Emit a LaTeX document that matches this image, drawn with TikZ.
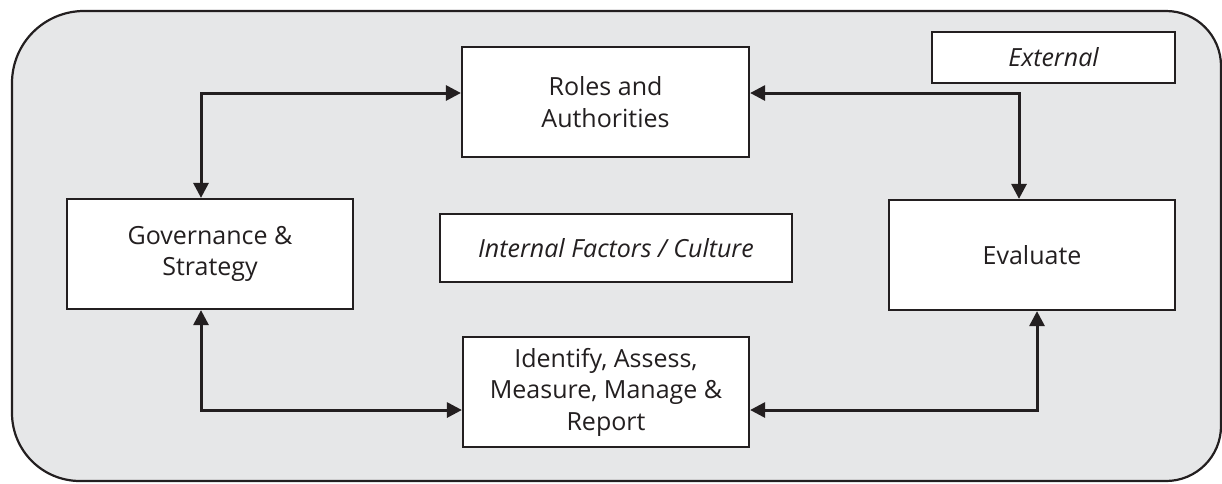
\documentclass[tikz,border=0pt]{standalone}
\usepackage{fontspec}
\setmainfont{Open Sans}
\usetikzlibrary{arrows.meta}
\definecolor{ink}{HTML}{231F20}
\definecolor{panel}{HTML}{E6E7E8}
\begin{document}
\begin{tikzpicture}[x=1pt,y=-1pt,
  box/.style={draw=ink,fill=white,line width=2.2pt,inner sep=0pt,align=center,text=ink,
    font=\fontsize{25}{31.5}\selectfont},
  link/.style={draw=ink,line width=3pt,{Triangle[length=15pt,width=15pt]}-{Triangle[length=15pt,width=15pt]}}]
\useasboundingbox (0,0) rectangle (1222,483);
\fill[white] (0,0) rectangle (1222,483);
% outer panel
\draw[ink,line width=2.2pt,fill=panel]
  (12,83) .. controls (12,43.2) and (44.2,11) .. (84,11)
  -- (1166,11) .. controls (1196.4,11) and (1221,35.6) .. (1221,66)
  -- (1221,426) .. controls (1221,456.4) and (1196.4,481) .. (1166,481)
  -- (80,481) .. controls (42.4,481) and (12,450.6) .. (12,413) -- cycle;
% boxes
\node[box,minimum width=287pt,minimum height=110pt] (roles) at (605.5,102) {Roles and\\Authorities};
\node[box,minimum width=286pt,minimum height=110pt] (gov) at (210,254) {Governance \&\\Strategy};
\node[box,minimum width=352pt,minimum height=68pt] (internal) at (616,248) {\itshape Internal Factors / Culture};
\node[box,minimum width=286pt,minimum height=110pt] (ident) at (606,392) {Identify, Assess,\\Measure, Manage \&\\Report};
\node[box,minimum width=286pt,minimum height=110pt] (eval) at (1032,255) {Evaluate};
\node[box,minimum width=243pt,minimum height=51pt] (ext) at (1053.5,57.5) {\itshape External};
% connectors
\coordinate (c1) at (201,93);
\coordinate (c2) at (1019,93);
\coordinate (c3) at (201,410);
\coordinate (c4) at (1037,410);
\draw[link] (gov.north -| c1) -- (c1) -- (roles.west |- c1);
\draw[link] (roles.east |- c2) -- (c2) -- (eval.north -| c2);
\draw[link] (gov.south -| c3) -- (c3) -- (ident.west |- c3);
\draw[link] (ident.east |- c4) -- (c4) -- (eval.south -| c4);
\end{tikzpicture}
\end{document}
